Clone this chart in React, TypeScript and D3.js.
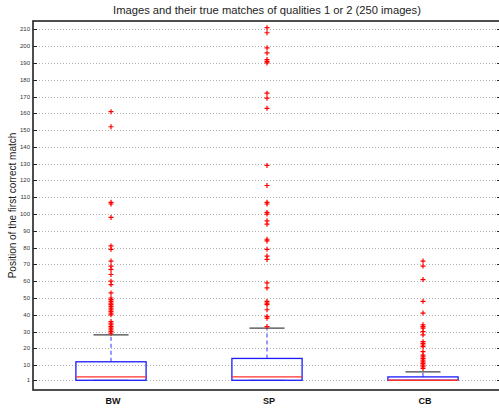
import React, { useEffect, useRef } from 'react';
import * as d3 from 'd3';

// box statistics per method
const categories = ['BW', 'SP', 'CB'];
const lowerWhisker = [1, 1, 1];
const q1 = [1, 1, 1];
const medians = [3, 3, 1];
const q3 = [12, 14, 3];
const upperWhisker = [28, 32, 6];

// outliers
const outliersBW = [161, 152, 107, 106, 98, 81, 79, 72, 69, 67, 64, 60, 58, 53, 50, 49, 48, 47, 46, 45, 44, 43, 42, 41, 40, 36, 35, 34, 33, 32, 31, 30, 29];
const outliersSP = [211, 208, 199, 196, 192, 191, 190, 172, 169, 163, 129, 117, 107, 106, 101, 100, 96, 94, 85, 84, 79, 75, 73, 59, 56, 48, 47, 46, 43, 39, 38, 33];
const outliersCB = [72, 69, 61, 48, 41, 34, 33, 32, 30, 28, 24, 23, 22, 21, 18, 16, 15, 14, 13, 12, 11, 10, 9, 8];

const yTicks = [1, 10, 20, 30, 40, 50, 60, 70, 80, 90, 100, 110, 120, 130, 140, 150, 160, 170, 180, 190, 200, 210];

const App = () => {
  const ref = useRef<SVGSVGElement>(null);

  useEffect(() => {
    const svg = d3.select(ref.current);
    svg.selectAll('*').remove();

    const width = 499;
    const height = 410;
    const left = 33, right = 501, top = 21, bottom = 390;
    const font = '"Liberation Sans", Arial, Helvetica, sans-serif';

    const x = d3.scaleLinear().domain([0.5, 3.5]).range([left, right]);
    const y = d3.scaleLinear().domain([-4.8, 215]).range([bottom, top]);
    const boxW = 0.45;
    const capW = 0.225;
    const outliers = [outliersBW, outliersSP, outliersCB];

    svg.attr('width', width).attr('height', height);

    // dotted grid
    svg.append('g')
      .selectAll('line')
      .data(yTicks)
      .join('line')
        .attr('x1', left).attr('x2', right)
        .attr('y1', d => Math.round(y(d)) + 0.5).attr('y2', d => Math.round(y(d)) + 0.5)
        .attr('stroke', '#b4b4b4')
        .attr('stroke-width', 1)
        .attr('stroke-dasharray', '1,2');

    // tick marks on both sides
    const ticks = svg.append('g');
    ticks.selectAll('line.l')
      .data(yTicks)
      .join('line')
        .attr('class', 'l')
        .attr('x1', left).attr('x2', left + 4)
        .attr('y1', d => Math.round(y(d)) + 0.5).attr('y2', d => Math.round(y(d)) + 0.5)
        .attr('stroke', '#222');
    ticks.selectAll('line.r')
      .data(yTicks)
      .join('line')
        .attr('class', 'r')
        .attr('x1', right - 4).attr('x2', right)
        .attr('y1', d => Math.round(y(d)) + 0.5).attr('y2', d => Math.round(y(d)) + 0.5)
        .attr('stroke', '#222');

    svg.append('g')
      .selectAll('text')
      .data(yTicks)
      .join('text')
        .attr('x', left - 3)
        .attr('y', d => y(d) + 2)
        .attr('text-anchor', 'end')
        .attr('font-family', font)
        .attr('font-size', 6)
        .attr('fill', '#333')
        .text(d => d);

    // boxes
    const g = svg.append('g')
      .selectAll('g')
      .data(categories)
      .join('g');

    g.append('line')
      .attr('x1', (d, i) => x(i + 1)).attr('x2', (d, i) => x(i + 1))
      .attr('y1', (d, i) => y(q3[i])).attr('y2', (d, i) => y(upperWhisker[i]))
      .attr('stroke', '#3030ff')
      .attr('stroke-dasharray', '4,3');

    g.append('line')
      .attr('x1', (d, i) => x(i + 1 - capW / 2)).attr('x2', (d, i) => x(i + 1 + capW / 2))
      .attr('y1', (d, i) => y(upperWhisker[i])).attr('y2', (d, i) => y(upperWhisker[i]))
      .attr('stroke', '#444')
      .attr('stroke-width', 1.3);

    g.append('line')
      .attr('x1', (d, i) => x(i + 1 - capW / 2)).attr('x2', (d, i) => x(i + 1 + capW / 2))
      .attr('y1', (d, i) => y(lowerWhisker[i])).attr('y2', (d, i) => y(lowerWhisker[i]))
      .attr('stroke', '#888')
      .attr('stroke-width', 1);

    g.append('rect')
      .attr('x', (d, i) => x(i + 1 - boxW / 2))
      .attr('width', x(1 + boxW) - x(1))
      .attr('y', (d, i) => y(q3[i]))
      .attr('height', (d, i) => y(q1[i]) - y(q3[i]))
      .attr('fill', 'none')
      .attr('stroke', '#1a1aff')
      .attr('stroke-width', 1.3);

    g.append('line')
      .attr('x1', (d, i) => x(i + 1 - boxW / 2)).attr('x2', (d, i) => x(i + 1 + boxW / 2))
      .attr('y1', (d, i) => y(medians[i])).attr('y2', (d, i) => y(medians[i]))
      .attr('stroke', '#ff3030')
      .attr('stroke-width', 1.3);

    // outlier crosses
    const s = 2.5;
    g.each(function (d, i) {
      d3.select(this)
        .selectAll('path')
        .data(outliers[i])
        .join('path')
          .attr('d', v => `M${x(i + 1) - s},${y(v)}H${x(i + 1) + s}M${x(i + 1)},${y(v) - s}V${y(v) + s}`)
          .attr('stroke', '#ff0000')
          .attr('stroke-width', 1.2);
    });

    // frame
    svg.append('rect')
      .attr('x', left).attr('y', top)
      .attr('width', right - left).attr('height', bottom - top)
      .attr('fill', 'none')
      .attr('stroke', '#222')
      .attr('stroke-width', 1.6);

    svg.append('g')
      .selectAll('text')
      .data(categories)
      .join('text')
        .attr('x', (d, i) => x(i + 1) + 2)
        .attr('y', 404)
        .attr('text-anchor', 'middle')
        .attr('font-family', font)
        .attr('font-weight', 'bold')
        .attr('font-size', 9)
        .attr('fill', '#111')
        .text(d => d);

    svg.append('text')
      .attr('x', (left + right) / 2)
      .attr('y', 14)
      .attr('text-anchor', 'middle')
      .attr('font-family', font)
      .attr('font-size', 11.2)
      .attr('fill', '#222')
      .text('Images and their true matches of qualities 1 or 2 (250 images)');

    svg.append('text')
      .attr('transform', `translate(16,${(top + bottom) / 2}) rotate(-90)`)
      .attr('text-anchor', 'middle')
      .attr('font-family', font)
      .attr('font-size', 10)
      .attr('fill', '#222')
      .text('Position of the first correct match');
  }, []);

  return (
    <svg ref={ref} style={{ position: 'absolute', left: 0, top: 0, display: 'block', background: '#fff' }}></svg>
  );
};

export default App;
